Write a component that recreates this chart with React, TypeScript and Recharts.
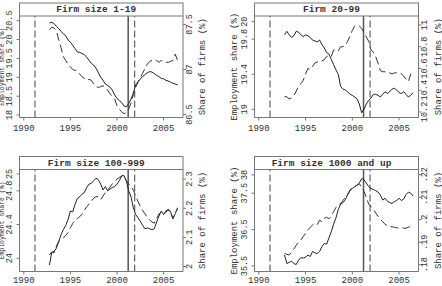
import React from 'react';
import { LineChart, Line, XAxis, YAxis, ReferenceLine } from 'recharts';

const FONT = '"Liberation Mono", "DejaVu Sans Mono", monospace';
const INK = '#333';
const FRAME = '#777';

// quarterly observations
const quarters = [
  1992.75,
  1993, 1993.25, 1993.5, 1993.75,
  1994, 1994.25, 1994.5, 1994.75,
  1995, 1995.25, 1995.5, 1995.75,
  1996, 1996.25, 1996.5, 1996.75,
  1997, 1997.25, 1997.5, 1997.75,
  1998, 1998.25, 1998.5, 1998.75,
  1999, 1999.25, 1999.5, 1999.75,
  2000, 2000.25, 2000.5, 2000.75,
  2001, 2001.25, 2001.5, 2001.75,
  2002, 2002.25, 2002.5, 2002.75,
  2003, 2003.25, 2003.5, 2003.75,
  2004, 2004.25, 2004.5, 2004.75,
  2005, 2005.25, 2005.5, 2005.75,
  2006, 2006.25, 2006.5,
];

const titles = ['Firm size 1-19', 'Firm 20-99', 'Firm size 100-999', 'Firm size 1000 and up'];

// employment share (%) - solid, left axis
const emp1to19 = [
  20.44,
  20.46, 20.42, 20.35, 20.29,
  20.22, 20.15, 20.1, 19.99,
  19.93, 19.85, 19.76, 19.67,
  19.66, 19.63, 19.6, 19.53,
  19.45, 19.37, 19.32, 19.24,
  19.12, 19.0, 18.92, 18.82,
  18.78, 18.74, 18.66, 18.53,
  18.44, 18.38, 18.33, 18.24,
  18.22, 18.3, 18.42, 18.58,
  18.8, 18.88, 18.95, 19.02,
  19.07, 19.12, 19.15, 19.14,
  19.1, 19.05, 19.02, 18.97,
  18.96, 18.92, 18.9, 18.87,
  18.84, 18.82, 18.8,
];
// share of firms (%) - dashed, right axis
const firms1to19 = [
  87.44,
  87.47, 87.46, 87.43, 87.33,
  87.24, 87.14, 87.1, 87.06,
  87.03, 87.0, 86.99, 86.98,
  86.95, 86.92, 86.9, 86.88,
  86.89, 86.88, 86.84, 86.81,
  86.8, 86.81, 86.82, 86.8,
  86.77, 86.73, 86.7, 86.67,
  86.6, 86.56, 86.53, 86.51,
  86.52, 86.56, 86.63, 86.72,
  86.8, 86.86, 86.91, 86.96,
  87.01, 87.06, 87.09, 87.1,
  87.11, 87.1, 87.08, 87.1,
  87.09, 87.08, 87.08, 87.09,
  87.1, 87.17, 87.1,
];

const emp20to99 = [
  19.85,
  19.89, 19.85, 19.82, 19.84,
  19.89, 19.88, 19.85, 19.83,
  19.85, 19.84, 19.82, 19.79,
  19.78, 19.77, 19.79, 19.74,
  19.7, 19.65, 19.63, 19.57,
  19.51, 19.45, 19.4, 19.26,
  19.23, 19.22, 19.2, 19.17,
  19.16, 19.14, 19.12, 19.06,
  18.96, 19.0, 19.06, 19.1,
  19.13, 19.17, 19.17, 19.16,
  19.14, 19.17, 19.2, 19.18,
  19.2, 19.23, 19.24, 19.22,
  19.19, 19.18, 19.2, 19.17,
  19.14, 19.16, 19.19,
];
const firms20to99 = [
  10.34,
  10.34, 10.32, 10.33, 10.35,
  10.39, 10.44, 10.46, 10.49,
  10.55, 10.6, 10.59, 10.62,
  10.65, 10.66, 10.66, 10.67,
  10.68, 10.71, 10.72, 10.71,
  10.77, 10.77, 10.76, 10.8,
  10.8, 10.81, 10.85, 10.9,
  10.95, 10.99, 11.0, 10.99,
  10.97, 10.93, 10.89, 10.85,
  10.77, 10.75, 10.71, 10.65,
  10.58, 10.57, 10.57, 10.56,
  10.56, 10.55, 10.56, 10.56,
  10.56, 10.55, 10.53, 10.5,
  10.48, 10.55, 10.57,
];

const emp100to999 = [
  23.92,
  24.07, 24.08, 24.12, 24.2,
  24.28, 24.34, 24.39, 24.46,
  24.56, 24.55, 24.64, 24.71,
  24.73, 24.76, 24.78, 24.84,
  24.88, 24.89, 24.92, 24.95,
  24.93, 24.88, 24.81, 24.85,
  24.8, 24.82, 24.84, 24.85,
  24.88, 24.92, 24.98, 24.98,
  24.92, 24.8, 24.73, 24.6,
  24.52, 24.48, 24.44, 24.39,
  24.35, 24.36, 24.35, 24.34,
  24.35, 24.43, 24.5, 24.56,
  24.52, 24.56, 24.58, 24.55,
  24.47, 24.53, 24.6,
];
const firms100to999 = [
  2.04,
  2.05, 2.047, 2.07, 2.087,
  2.091, 2.098, 2.107, 2.117,
  2.133, 2.148, 2.16, 2.165,
  2.171, 2.18, 2.193, 2.205,
  2.215, 2.223, 2.235, 2.24,
  2.239, 2.23, 2.242, 2.254,
  2.262, 2.273, 2.284, 2.292,
  2.3, 2.306, 2.309, 2.31,
  2.294, 2.284, 2.276, 2.262,
  2.243, 2.223, 2.207, 2.193,
  2.181, 2.169, 2.16, 2.153,
  2.149, 2.165, 2.18, 2.188,
  2.178, 2.187, 2.194, 2.184,
  2.164, 2.183, 2.199,
];

const emp1000up = [
  35.8,
  35.57, 35.6, 35.63, 35.57,
  35.54, 35.66, 35.73, 35.72,
  35.74, 35.8, 35.76, 35.9,
  35.86, 35.84, 35.9, 36.03,
  36.12, 36.1, 36.27, 36.44,
  36.65, 36.82, 37.05, 37.2,
  37.24, 37.32, 37.46, 37.57,
  37.63, 37.67, 37.72, 37.78,
  37.9, 37.87, 37.78, 37.68,
  37.63, 37.6, 37.57, 37.53,
  37.45, 37.31, 37.36, 37.28,
  37.24, 37.22, 37.27, 37.3,
  37.36, 37.3, 37.34, 37.46,
  37.53, 37.5, 37.42,
];
const firms1000up = [
  0.185,
  0.1846, 0.1843, 0.1855, 0.187,
  0.1886, 0.19, 0.191, 0.1925,
  0.1939, 0.1955, 0.1966, 0.1976,
  0.1982, 0.1978, 0.1998, 0.1991,
  0.2006, 0.2011, 0.2004, 0.2015,
  0.2036, 0.2054, 0.2066, 0.2072,
  0.2085, 0.2099, 0.211, 0.2132,
  0.2143, 0.2148, 0.2153, 0.216,
  0.2144, 0.2126, 0.2099, 0.207,
  0.2058, 0.2047, 0.203, 0.2015,
  0.2002, 0.1991, 0.198, 0.1973,
  0.1969, 0.1969, 0.1966, 0.1964,
  0.1964, 0.1964, 0.1963, 0.1962,
  0.1967, 0.1969, 0.1962,
];

const empSeries = [emp1to19, emp20to99, emp100to999, emp1000up];
const firmSeries = [firms1to19, firms20to99, firms100to999, firms1000up];

const yearTicks = [1990, 1995, 2000, 2005];
const recessionDashed = [1991.2, 2001.9];
const recessionSolid = [2001.2];

const leftTicks = [
  [18, 18.5, 19, 19.5, 20, 20.5],
  [19, 19.4, 19.8, 20],
  [24, 24.4, 24.8, 25],
  [35.5, 36.5, 37.5, 38],
];
const leftLabels = [
  ['18', '18.5', '19', '19.5', '20', '20.5'],
  ['19', '19.4', '19.8', '20'],
  ['24', '24.4', '24.8', '25'],
  ['35.5', '36.5', '37.5', '38'],
];
const rightTicks = [
  [86.5, 87, 87.5],
  [10.2, 10.4, 10.6, 10.8, 11],
  [2, 2.1, 2.2, 2.3],
  [0.18, 0.19, 0.2, 0.21, 0.22],
];
const rightLabels = [
  ['86.5', '87', '87.5'],
  ['10.2', '10.4', '10.6', '10.8', '11'],
  ['2', '2.1', '2.2', '2.3'],
  ['.18', '.19', '.2', '.21', '.22'],
];

// panel placement on the page (chart box, plot box, strip top, axis ranges)
const layout = [
  { cx: 0, cy: 0, x0: 19.5, x1: 183, y0: 16, y1: 117.5, s0: 3, gap: 4, lt: 17, lf: 6.5, left: [17.934, 20.625], right: [86.467, 87.594] },
  { cx: 221, cy: 0, x0: 254.5, x1: 418.5, y0: 16, y1: 117.5, s0: 3, gap: 4, lt: 20, lf: 9, left: [18.906, 20.065], right: [10.149, 11.083] },
  { cx: 0, cy: 143, x0: 19.5, x1: 183, y0: 169.5, y1: 271.5, s0: 156.5, gap: 2, lt: 17, lf: 6.5, left: [23.843, 25.053], right: [1.983, 2.333] },
  { cx: 221, cy: 143, x0: 254.5, x1: 418.5, y0: 169.5, y1: 271.5, s0: 156.5, gap: 2, lt: 20, lf: 9, left: [35.349, 38.151], right: [0.17698, 0.22231] },
];
const X_DOMAIN: [number, number] = [1989.54, 2007.08];
const W = 221;
const H = 143;

const VTick = ({ x, y, payload, ticks, labels, side }: any) => {
  const i = ticks.findIndex((t: number) => Math.abs(t - payload.value) < 1e-9);
  const label = i >= 0 ? labels[i] : String(payload.value);
  const px = side === 'left' ? x - 4 : x + 2;
  return (
    <text x={px} y={y} transform={`rotate(-90 ${px} ${y})`} textAnchor="middle" dominantBaseline="central"
      fontSize={8.5} fontFamily={FONT} fill={INK}>
      {label}
    </text>
  );
};

const Panel = ({ idx }: { idx: number }) => {
  const g = layout[idx];
  const rows = quarters.map((t, i) => ({ t, emp: empSeries[idx][i], firms: firmSeries[idx][i] }));
  return (
    <div style={{ position: 'absolute', left: g.cx, top: g.cy, width: W, height: H }}>
      <LineChart width={W} height={H} data={rows} margin={{ top: g.y0 - g.cy, right: 0, bottom: 0, left: 0 }}>
        <XAxis type="number" dataKey="t" domain={X_DOMAIN} ticks={yearTicks} interval={0} allowDataOverflow
          height={g.cy + H - g.y1} tickSize={3} tickMargin={g.gap} stroke={FRAME}
          tick={{ fontSize: 9, fontFamily: FONT, fill: INK }} />
        <YAxis yAxisId="l" orientation="left" type="number" domain={g.left} ticks={leftTicks[idx]} interval={0} allowDataOverflow
          width={g.x0 - g.cx} tickSize={3} tickMargin={2} stroke={FRAME}
          tick={(p: any) => <VTick {...p} ticks={leftTicks[idx]} labels={leftLabels[idx]} side="left" />} />
        <YAxis yAxisId="r" orientation="right" type="number" domain={g.right} ticks={rightTicks[idx]} interval={0} allowDataOverflow
          width={g.cx + W - g.x1} tickSize={3} tickMargin={2} stroke={FRAME}
          tick={(p: any) => <VTick {...p} ticks={rightTicks[idx]} labels={rightLabels[idx]} side="right" />} />
        {recessionDashed.map((r) => (
          <ReferenceLine key={r} x={r} yAxisId="l" stroke="#444" strokeWidth={1} strokeDasharray="7 3" />
        ))}
        {recessionSolid.map((r) => (
          <ReferenceLine key={r} x={r} yAxisId="l" stroke="#555" strokeWidth={1.5} />
        ))}
        <Line yAxisId="l" type="linear" dataKey="emp" stroke="#222" strokeWidth={1} dot={false} isAnimationActive={false} />
        <Line yAxisId="r" type="linear" dataKey="firms" stroke="#333" strokeWidth={1} strokeDasharray="8 4" dot={false} isAnimationActive={false} />
      </LineChart>
    </div>
  );
};

export default function App() {
  return (
    <div style={{ position: 'absolute', left: 0, top: 0, width: 442, height: 286, background: '#fff', overflow: 'hidden' }}>
      {layout.map((_, i) => <Panel key={i} idx={i} />)}
      <svg width={442} height={286} style={{ position: 'absolute', left: 0, top: 0, pointerEvents: 'none' }}>
        {layout.map((g, i) => {
          const my = (g.y0 + g.y1) / 2;
          const lx = g.x0 - g.lt;
          const rx = g.x1 + 20;
          return (
            <g key={i} fontFamily={FONT} fill={INK}>
              <rect x={g.x0} y={g.s0} width={g.x1 - g.x0} height={g.y0 - g.s0} fill="#fff" stroke={FRAME} strokeWidth={1} />
              <text x={(g.x0 + g.x1) / 2 - 5} y={(g.s0 + g.y0) / 2} textAnchor="middle" dominantBaseline="central"
                fontSize={9.5} fontWeight="bold">{titles[i]}</text>
              <text x={lx} y={my} transform={`rotate(-90 ${lx} ${my})`} textAnchor="middle" dominantBaseline="central" fontSize={g.lf}>
                Employment share (%)
              </text>
              <text x={rx} y={my} transform={`rotate(-90 ${rx} ${my})`} textAnchor="middle" dominantBaseline="central" fontSize={9}>
                Share of firms (%)
              </text>
            </g>
          );
        })}
      </svg>
    </div>
  );
}
